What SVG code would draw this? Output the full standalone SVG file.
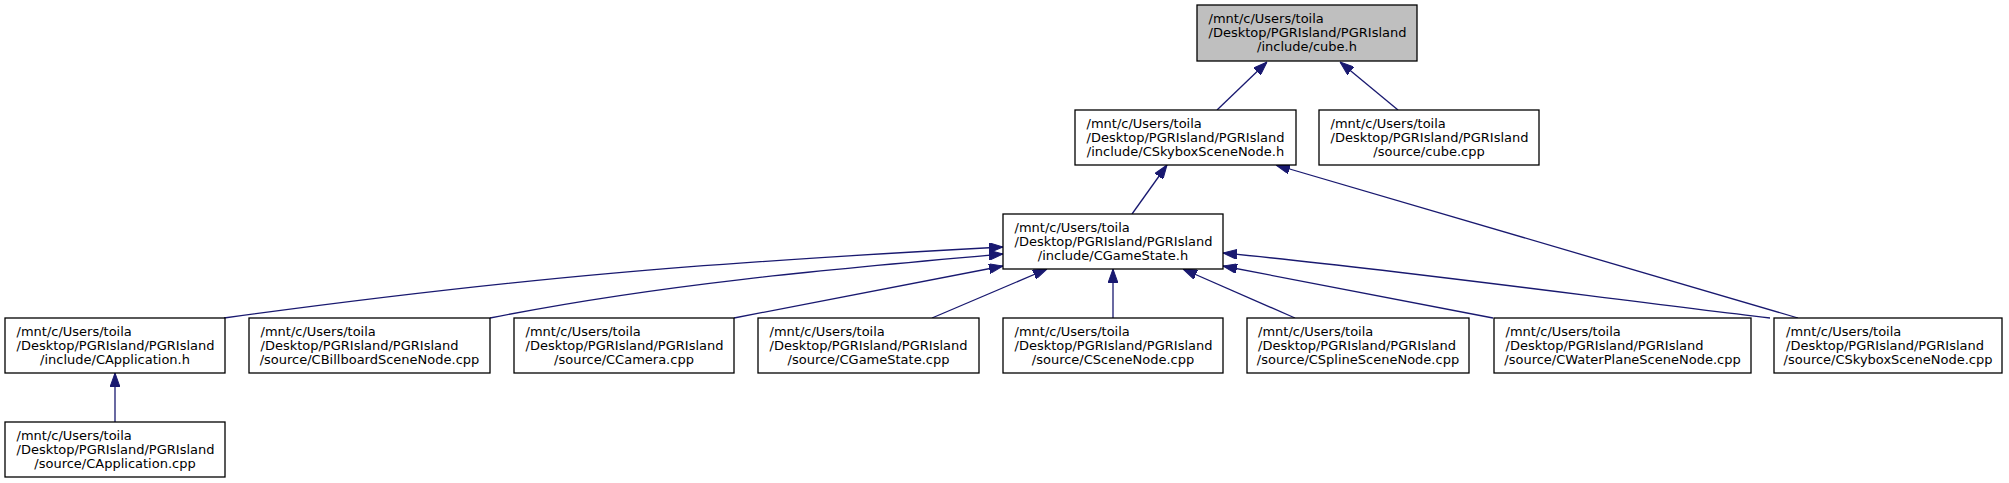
<svg xmlns="http://www.w3.org/2000/svg" width="2009" height="483" viewBox="0 0 2009 483">
<style>
.box{fill:#ffffff;stroke:#000000;stroke-width:1.3}
.root{fill:#bfbfbf;stroke:#000000;stroke-width:1.3}
text{font-family:"DejaVu Sans","Liberation Sans",sans-serif;font-size:13px;fill:#000}
.c{text-anchor:middle}
.e{fill:none;stroke:#191970;stroke-width:1.3;marker-end:url(#ah)}
</style>
<defs>
<marker id="ah" markerUnits="userSpaceOnUse" markerWidth="14" markerHeight="10" viewBox="0 0 14 10" refX="14" refY="5" orient="auto">
<path d="M0,0 L14,5 L0,10 z" fill="#191970" stroke="#191970"/>
</marker>
</defs>
<rect width="2009" height="483" fill="#ffffff"/>
<g id="connectors">
<path class="e" d="M1217,110 L1267,62"/>
<path class="e" d="M1398,110 L1340,62"/>
<path class="e" d="M1132,214 L1167,165"/>
<path class="e" d="M1798,318 L1276,165"/>
<path class="e" d="M115,422 L115,373"/>
<path class="e" d="M224,318 C524,277 703,263 1003,247"/>
<path class="e" d="M490,318 C660,284 833,269 1003,254"/>
<path class="e" d="M734,318 L1003,266"/>
<path class="e" d="M932,318 L1047,269"/>
<path class="e" d="M1113,318 L1113,269"/>
<path class="e" d="M1295,318 L1183,269"/>
<path class="e" d="M1493,318 L1223,266"/>
<path class="e" d="M1770,318 C1600,298 1400,270 1223,253"/>
</g>
<g id="cube_h">
<rect class="root" x="1197" y="5" width="220" height="56"/>
<text x="1208.5" y="22.5">/mnt/c/Users/toila</text>
<text x="1208.5" y="36.5">/Desktop/PGRIsland/PGRIsland</text>
<text class="c" x="1307" y="50.5">/include/cube.h</text>
</g>
<g id="CSkyboxSceneNode_h">
<rect class="box" x="1075" y="110" width="221" height="55"/>
<text x="1086.5" y="127.5">/mnt/c/Users/toila</text>
<text x="1086.5" y="141.5">/Desktop/PGRIsland/PGRIsland</text>
<text class="c" x="1185.5" y="155.5">/include/CSkyboxSceneNode.h</text>
</g>
<g id="cube_cpp">
<rect class="box" x="1319" y="110" width="220" height="55"/>
<text x="1330.5" y="127.5">/mnt/c/Users/toila</text>
<text x="1330.5" y="141.5">/Desktop/PGRIsland/PGRIsland</text>
<text class="c" x="1429" y="155.5">/source/cube.cpp</text>
</g>
<g id="CGameState_h">
<rect class="box" x="1003" y="214" width="220" height="55"/>
<text x="1014.5" y="231.5">/mnt/c/Users/toila</text>
<text x="1014.5" y="245.5">/Desktop/PGRIsland/PGRIsland</text>
<text class="c" x="1113" y="259.5">/include/CGameState.h</text>
</g>
<g id="CApplication_h">
<rect class="box" x="5" y="318" width="220" height="55"/>
<text x="16.5" y="335.5">/mnt/c/Users/toila</text>
<text x="16.5" y="349.5">/Desktop/PGRIsland/PGRIsland</text>
<text class="c" x="115" y="363.5">/include/CApplication.h</text>
</g>
<g id="CBillboardSceneNode_cpp">
<rect class="box" x="249" y="318" width="241" height="55"/>
<text x="260.5" y="335.5">/mnt/c/Users/toila</text>
<text x="260.5" y="349.5">/Desktop/PGRIsland/PGRIsland</text>
<text class="c" x="369.5" y="363.5">/source/CBillboardSceneNode.cpp</text>
</g>
<g id="CCamera_cpp">
<rect class="box" x="514" y="318" width="220" height="55"/>
<text x="525.5" y="335.5">/mnt/c/Users/toila</text>
<text x="525.5" y="349.5">/Desktop/PGRIsland/PGRIsland</text>
<text class="c" x="624" y="363.5">/source/CCamera.cpp</text>
</g>
<g id="CGameState_cpp">
<rect class="box" x="758" y="318" width="221" height="55"/>
<text x="769.5" y="335.5">/mnt/c/Users/toila</text>
<text x="769.5" y="349.5">/Desktop/PGRIsland/PGRIsland</text>
<text class="c" x="868.5" y="363.5">/source/CGameState.cpp</text>
</g>
<g id="CSceneNode_cpp">
<rect class="box" x="1003" y="318" width="220" height="55"/>
<text x="1014.5" y="335.5">/mnt/c/Users/toila</text>
<text x="1014.5" y="349.5">/Desktop/PGRIsland/PGRIsland</text>
<text class="c" x="1113" y="363.5">/source/CSceneNode.cpp</text>
</g>
<g id="CSplineSceneNode_cpp">
<rect class="box" x="1247" y="318" width="222" height="55"/>
<text x="1258" y="335.5">/mnt/c/Users/toila</text>
<text x="1258" y="349.5">/Desktop/PGRIsland/PGRIsland</text>
<text class="c" x="1358" y="363.5">/source/CSplineSceneNode.cpp</text>
</g>
<g id="CWaterPlaneSceneNode_cpp">
<rect class="box" x="1494" y="318" width="257" height="55"/>
<text x="1505.5" y="335.5">/mnt/c/Users/toila</text>
<text x="1505.5" y="349.5">/Desktop/PGRIsland/PGRIsland</text>
<text class="c" x="1622.5" y="363.5">/source/CWaterPlaneSceneNode.cpp</text>
</g>
<g id="CSkyboxSceneNode_cpp">
<rect class="box" x="1774" y="318" width="228" height="55"/>
<text x="1786" y="335.5">/mnt/c/Users/toila</text>
<text x="1786" y="349.5">/Desktop/PGRIsland/PGRIsland</text>
<text class="c" x="1888" y="363.5">/source/CSkyboxSceneNode.cpp</text>
</g>
<g id="CApplication_cpp">
<rect class="box" x="5" y="422" width="220" height="55"/>
<text x="16.5" y="439.5">/mnt/c/Users/toila</text>
<text x="16.5" y="453.5">/Desktop/PGRIsland/PGRIsland</text>
<text class="c" x="115" y="467.5">/source/CApplication.cpp</text>
</g>
</svg>
